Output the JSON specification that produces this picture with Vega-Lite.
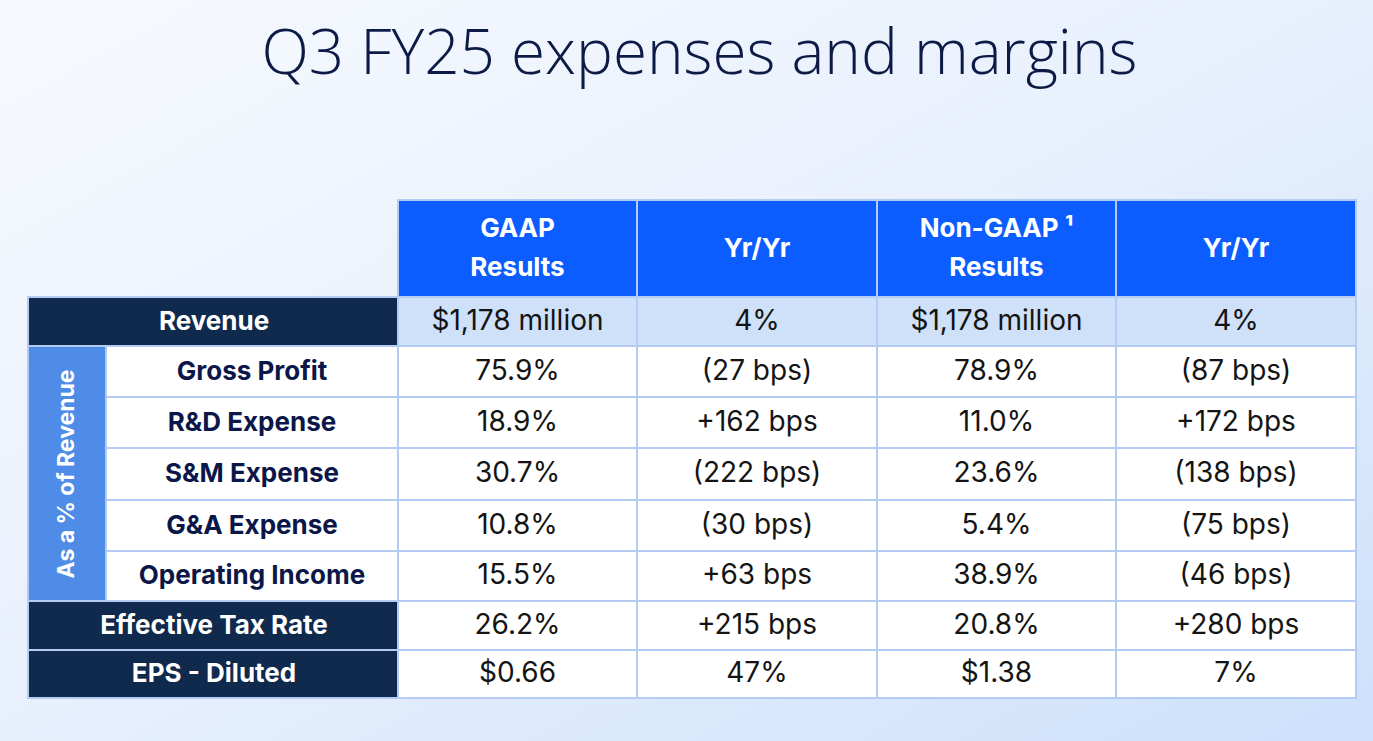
{
  "$schema": "https://vega.github.io/schema/vega-lite/v6.json",
  "width": 1373,
  "height": 741,
  "autosize": "none",
  "padding": 0,
  "background": "#eef4fd",
  "config": {"view": {"stroke": null}},
  "datasets": {
    "bg": [{"c0": -1, "c1": 7, "r0": -2, "r1": 10}],
    "cells": [
      {"c0": 2, "c1": 3, "r0": 0, "r1": 1, "kind": "header"},
      {"c0": 3, "c1": 4, "r0": 0, "r1": 1, "kind": "header"},
      {"c0": 4, "c1": 5, "r0": 0, "r1": 1, "kind": "header"},
      {"c0": 5, "c1": 6, "r0": 0, "r1": 1, "kind": "header"},
      {"c0": 0, "c1": 2, "r0": 1, "r1": 2, "kind": "dark"},
      {"c0": 0, "c1": 2, "r0": 7, "r1": 8, "kind": "dark"},
      {"c0": 0, "c1": 2, "r0": 8, "r1": 9, "kind": "dark"},
      {"c0": 0, "c1": 1, "r0": 2, "r1": 7, "kind": "side"},
      {"c0": 1, "c1": 2, "r0": 2, "r1": 3, "kind": "label"},
      {"c0": 1, "c1": 2, "r0": 3, "r1": 4, "kind": "label"},
      {"c0": 1, "c1": 2, "r0": 4, "r1": 5, "kind": "label"},
      {"c0": 1, "c1": 2, "r0": 5, "r1": 6, "kind": "label"},
      {"c0": 1, "c1": 2, "r0": 6, "r1": 7, "kind": "label"},
      {"c0": 2, "c1": 3, "r0": 1, "r1": 2, "kind": "revenue"},
      {"c0": 3, "c1": 4, "r0": 1, "r1": 2, "kind": "revenue"},
      {"c0": 4, "c1": 5, "r0": 1, "r1": 2, "kind": "revenue"},
      {"c0": 5, "c1": 6, "r0": 1, "r1": 2, "kind": "revenue"},
      {"c0": 2, "c1": 3, "r0": 2, "r1": 3, "kind": "data"},
      {"c0": 3, "c1": 4, "r0": 2, "r1": 3, "kind": "data"},
      {"c0": 4, "c1": 5, "r0": 2, "r1": 3, "kind": "data"},
      {"c0": 5, "c1": 6, "r0": 2, "r1": 3, "kind": "data"},
      {"c0": 2, "c1": 3, "r0": 3, "r1": 4, "kind": "data"},
      {"c0": 3, "c1": 4, "r0": 3, "r1": 4, "kind": "data"},
      {"c0": 4, "c1": 5, "r0": 3, "r1": 4, "kind": "data"},
      {"c0": 5, "c1": 6, "r0": 3, "r1": 4, "kind": "data"},
      {"c0": 2, "c1": 3, "r0": 4, "r1": 5, "kind": "data"},
      {"c0": 3, "c1": 4, "r0": 4, "r1": 5, "kind": "data"},
      {"c0": 4, "c1": 5, "r0": 4, "r1": 5, "kind": "data"},
      {"c0": 5, "c1": 6, "r0": 4, "r1": 5, "kind": "data"},
      {"c0": 2, "c1": 3, "r0": 5, "r1": 6, "kind": "data"},
      {"c0": 3, "c1": 4, "r0": 5, "r1": 6, "kind": "data"},
      {"c0": 4, "c1": 5, "r0": 5, "r1": 6, "kind": "data"},
      {"c0": 5, "c1": 6, "r0": 5, "r1": 6, "kind": "data"},
      {"c0": 2, "c1": 3, "r0": 6, "r1": 7, "kind": "data"},
      {"c0": 3, "c1": 4, "r0": 6, "r1": 7, "kind": "data"},
      {"c0": 4, "c1": 5, "r0": 6, "r1": 7, "kind": "data"},
      {"c0": 5, "c1": 6, "r0": 6, "r1": 7, "kind": "data"},
      {"c0": 2, "c1": 3, "r0": 7, "r1": 8, "kind": "data"},
      {"c0": 3, "c1": 4, "r0": 7, "r1": 8, "kind": "data"},
      {"c0": 4, "c1": 5, "r0": 7, "r1": 8, "kind": "data"},
      {"c0": 5, "c1": 6, "r0": 7, "r1": 8, "kind": "data"},
      {"c0": 2, "c1": 3, "r0": 8, "r1": 9, "kind": "data"},
      {"c0": 3, "c1": 4, "r0": 8, "r1": 9, "kind": "data"},
      {"c0": 4, "c1": 5, "r0": 8, "r1": 9, "kind": "data"},
      {"c0": 5, "c1": 6, "r0": 8, "r1": 9, "kind": "data"}
    ],
    "texts": [
      {"cx": 3.26, "cy": -1, "t": "Q3 FY25 expenses and margins", "kind": "title"},
      {"cx": 2.5, "cy": 0.5, "t": "GAAP\nResults", "kind": "header2"},
      {"cx": 3.5, "cy": 0.5, "t": "Yr/Yr", "kind": "header"},
      {"cx": 4.5, "cy": 0.5, "t": "Non-GAAP ¹\nResults", "kind": "header2"},
      {"cx": 5.5, "cy": 0.5, "t": "Yr/Yr", "kind": "header"},
      {"cx": 1.37, "cy": 1.5, "t": "Revenue", "kind": "dark"},
      {"cx": 1.37, "cy": 7.5, "t": "Effective Tax Rate", "kind": "dark"},
      {"cx": 1.37, "cy": 8.5, "t": "EPS - Diluted", "kind": "dark"},
      {"cx": 1.5, "cy": 2.5, "t": "Gross Profit", "kind": "label"},
      {"cx": 1.5, "cy": 3.5, "t": "R&D Expense", "kind": "label"},
      {"cx": 1.5, "cy": 4.5, "t": "S&M Expense", "kind": "label"},
      {"cx": 1.5, "cy": 5.5, "t": "G&A Expense", "kind": "label"},
      {"cx": 1.5, "cy": 6.5, "t": "Operating Income", "kind": "label"},
      {"cx": 0.5, "cy": 4.5, "t": "As a % of Revenue", "kind": "side"},
      {"cx": 2.5, "cy": 1.5, "t": "$1,178 million", "kind": "data"},
      {"cx": 3.5, "cy": 1.5, "t": "4%", "kind": "data"},
      {"cx": 4.5, "cy": 1.5, "t": "$1,178 million", "kind": "data"},
      {"cx": 5.5, "cy": 1.5, "t": "4%", "kind": "data"},
      {"cx": 2.5, "cy": 2.5, "t": "75.9%", "kind": "data"},
      {"cx": 3.5, "cy": 2.5, "t": "(27 bps)", "kind": "data"},
      {"cx": 4.5, "cy": 2.5, "t": "78.9%", "kind": "data"},
      {"cx": 5.5, "cy": 2.5, "t": "(87 bps)", "kind": "data"},
      {"cx": 2.5, "cy": 3.5, "t": "18.9%", "kind": "data"},
      {"cx": 3.5, "cy": 3.5, "t": "+162 bps", "kind": "data"},
      {"cx": 4.5, "cy": 3.5, "t": "11.0%", "kind": "data"},
      {"cx": 5.5, "cy": 3.5, "t": "+172 bps", "kind": "data"},
      {"cx": 2.5, "cy": 4.5, "t": "30.7%", "kind": "data"},
      {"cx": 3.5, "cy": 4.5, "t": "(222 bps)", "kind": "data"},
      {"cx": 4.5, "cy": 4.5, "t": "23.6%", "kind": "data"},
      {"cx": 5.5, "cy": 4.5, "t": "(138 bps)", "kind": "data"},
      {"cx": 2.5, "cy": 5.5, "t": "10.8%", "kind": "data"},
      {"cx": 3.5, "cy": 5.5, "t": "(30 bps)", "kind": "data"},
      {"cx": 4.5, "cy": 5.5, "t": "5.4%", "kind": "data"},
      {"cx": 5.5, "cy": 5.5, "t": "(75 bps)", "kind": "data"},
      {"cx": 2.5, "cy": 6.5, "t": "15.5%", "kind": "data"},
      {"cx": 3.5, "cy": 6.5, "t": "+63 bps", "kind": "data"},
      {"cx": 4.5, "cy": 6.5, "t": "38.9%", "kind": "data"},
      {"cx": 5.5, "cy": 6.5, "t": "(46 bps)", "kind": "data"},
      {"cx": 2.5, "cy": 7.5, "t": "26.2%", "kind": "data"},
      {"cx": 3.5, "cy": 7.5, "t": "+215 bps", "kind": "data"},
      {"cx": 4.5, "cy": 7.5, "t": "20.8%", "kind": "data"},
      {"cx": 5.5, "cy": 7.5, "t": "+280 bps", "kind": "data"},
      {"cx": 2.5, "cy": 8.5, "t": "$0.66", "kind": "data"},
      {"cx": 3.5, "cy": 8.5, "t": "47%", "kind": "data"},
      {"cx": 4.5, "cy": 8.5, "t": "$1.38", "kind": "data"},
      {"cx": 5.5, "cy": 8.5, "t": "7%", "kind": "data"}
    ]
  },
  "resolve": {"scale": {"x": "shared", "y": "shared"}},
  "layer": [
    {
      "data": {"name": "bg"},
      "mark": {"type": "rect", "strokeWidth": 0, "fill": {"gradient": "linear", "x1": 0, "y1": 0, "x2": 1, "y2": 1, "stops": [{"offset": 0, "color": "#f7f9fe"}, {"offset": 0.45, "color": "#e9f1fd"}, {"offset": 1, "color": "#cde1fb"}]}},
      "encoding": {
        "x": {"field": "c0", "type": "quantitative", "axis": null, "scale": {"domain": [-1, 0, 1, 2, 3, 4, 5, 6, 7], "range": [0, 28, 106, 398, 637, 877, 1116, 1356, 1373], "nice": false, "zero": false}},
        "x2": {"field": "c1"},
        "y": {"field": "r0", "type": "quantitative", "axis": null, "scale": {"domain": [-2, -1, 0, 1, 2, 3, 4, 5, 6, 7, 8, 9, 10], "range": [0, 74, 200, 297, 346, 397, 448, 500, 551, 601, 650, 698, 741], "nice": false, "zero": false}},
        "y2": {"field": "r1"}
      }
    },
    {
      "data": {"name": "cells"},
      "mark": {"type": "rect", "stroke": "#b4ccf4", "strokeWidth": 2},
      "encoding": {
        "x": {"field": "c0", "type": "quantitative", "axis": null},
        "x2": {"field": "c1"},
        "y": {"field": "r0", "type": "quantitative", "axis": null},
        "y2": {"field": "r1"},
        "fill": {"field": "kind", "type": "nominal", "legend": null, "scale": {"domain": ["header", "dark", "side", "label", "revenue", "data"], "range": ["#0b5dff", "#0f2a4d", "#4e8ce7", "#ffffff", "#cfe0f9", "#ffffff"]}},
        "fillOpacity": {"field": "kind", "type": "nominal", "legend": null, "scale": {"domain": ["header", "dark", "side", "label", "revenue", "data"], "range": [1, 1, 1, 0.6, 0.8, 0.22]}}
      }
    },
    {
      "data": {"name": "texts"},
      "transform": [{"filter": "datum.kind === 'title'"}],
      "mark": {"type": "text", "font": "Open Sans", "fontWeight": 300, "fontSize": 62, "color": "#0c1a46", "align": "center", "baseline": "alphabetic"},
      "encoding": {
        "x": {"field": "cx", "type": "quantitative", "axis": null},
        "y": {"field": "cy", "type": "quantitative", "axis": null},
        "text": {"field": "t"}
      }
    },
    {
      "data": {"name": "texts"},
      "transform": [{"filter": "datum.kind === 'header'"}],
      "mark": {"type": "text", "font": "Inter", "fontWeight": 700, "fontSize": 26, "color": "#ffffff", "align": "center", "baseline": "middle"},
      "encoding": {
        "x": {"field": "cx", "type": "quantitative", "axis": null},
        "y": {"field": "cy", "type": "quantitative", "axis": null},
        "text": {"field": "t"}
      }
    },
    {
      "data": {"name": "texts"},
      "transform": [{"filter": "datum.kind === 'header2'"}],
      "mark": {"type": "text", "font": "Inter", "fontWeight": 700, "fontSize": 26, "color": "#ffffff", "align": "center", "baseline": "middle", "lineBreak": "\n", "lineHeight": 39, "dy": -20},
      "encoding": {
        "x": {"field": "cx", "type": "quantitative", "axis": null},
        "y": {"field": "cy", "type": "quantitative", "axis": null},
        "text": {"field": "t"}
      }
    },
    {
      "data": {"name": "texts"},
      "transform": [{"filter": "datum.kind === 'dark'"}],
      "mark": {"type": "text", "font": "Inter", "fontWeight": 700, "fontSize": 26, "color": "#ffffff", "align": "center", "baseline": "middle"},
      "encoding": {
        "x": {"field": "cx", "type": "quantitative", "axis": null},
        "y": {"field": "cy", "type": "quantitative", "axis": null},
        "text": {"field": "t"}
      }
    },
    {
      "data": {"name": "texts"},
      "transform": [{"filter": "datum.kind === 'label'"}],
      "mark": {"type": "text", "font": "Inter", "fontWeight": 700, "fontSize": 26, "color": "#0b1748", "align": "center", "baseline": "middle"},
      "encoding": {
        "x": {"field": "cx", "type": "quantitative", "axis": null},
        "y": {"field": "cy", "type": "quantitative", "axis": null},
        "text": {"field": "t"}
      }
    },
    {
      "data": {"name": "texts"},
      "transform": [{"filter": "datum.kind === 'side'"}],
      "mark": {"type": "text", "font": "Inter", "fontWeight": 700, "fontSize": 23, "color": "#ffffff", "align": "center", "baseline": "middle", "angle": 270},
      "encoding": {
        "x": {"field": "cx", "type": "quantitative", "axis": null},
        "y": {"field": "cy", "type": "quantitative", "axis": null},
        "text": {"field": "t"}
      }
    },
    {
      "data": {"name": "texts"},
      "transform": [{"filter": "datum.kind === 'data'"}],
      "mark": {"type": "text", "font": "Inter", "fontWeight": 400, "fontSize": 28, "color": "#141414", "align": "center", "baseline": "middle"},
      "encoding": {
        "x": {"field": "cx", "type": "quantitative", "axis": null},
        "y": {"field": "cy", "type": "quantitative", "axis": null},
        "text": {"field": "t"}
      }
    }
  ]
}
